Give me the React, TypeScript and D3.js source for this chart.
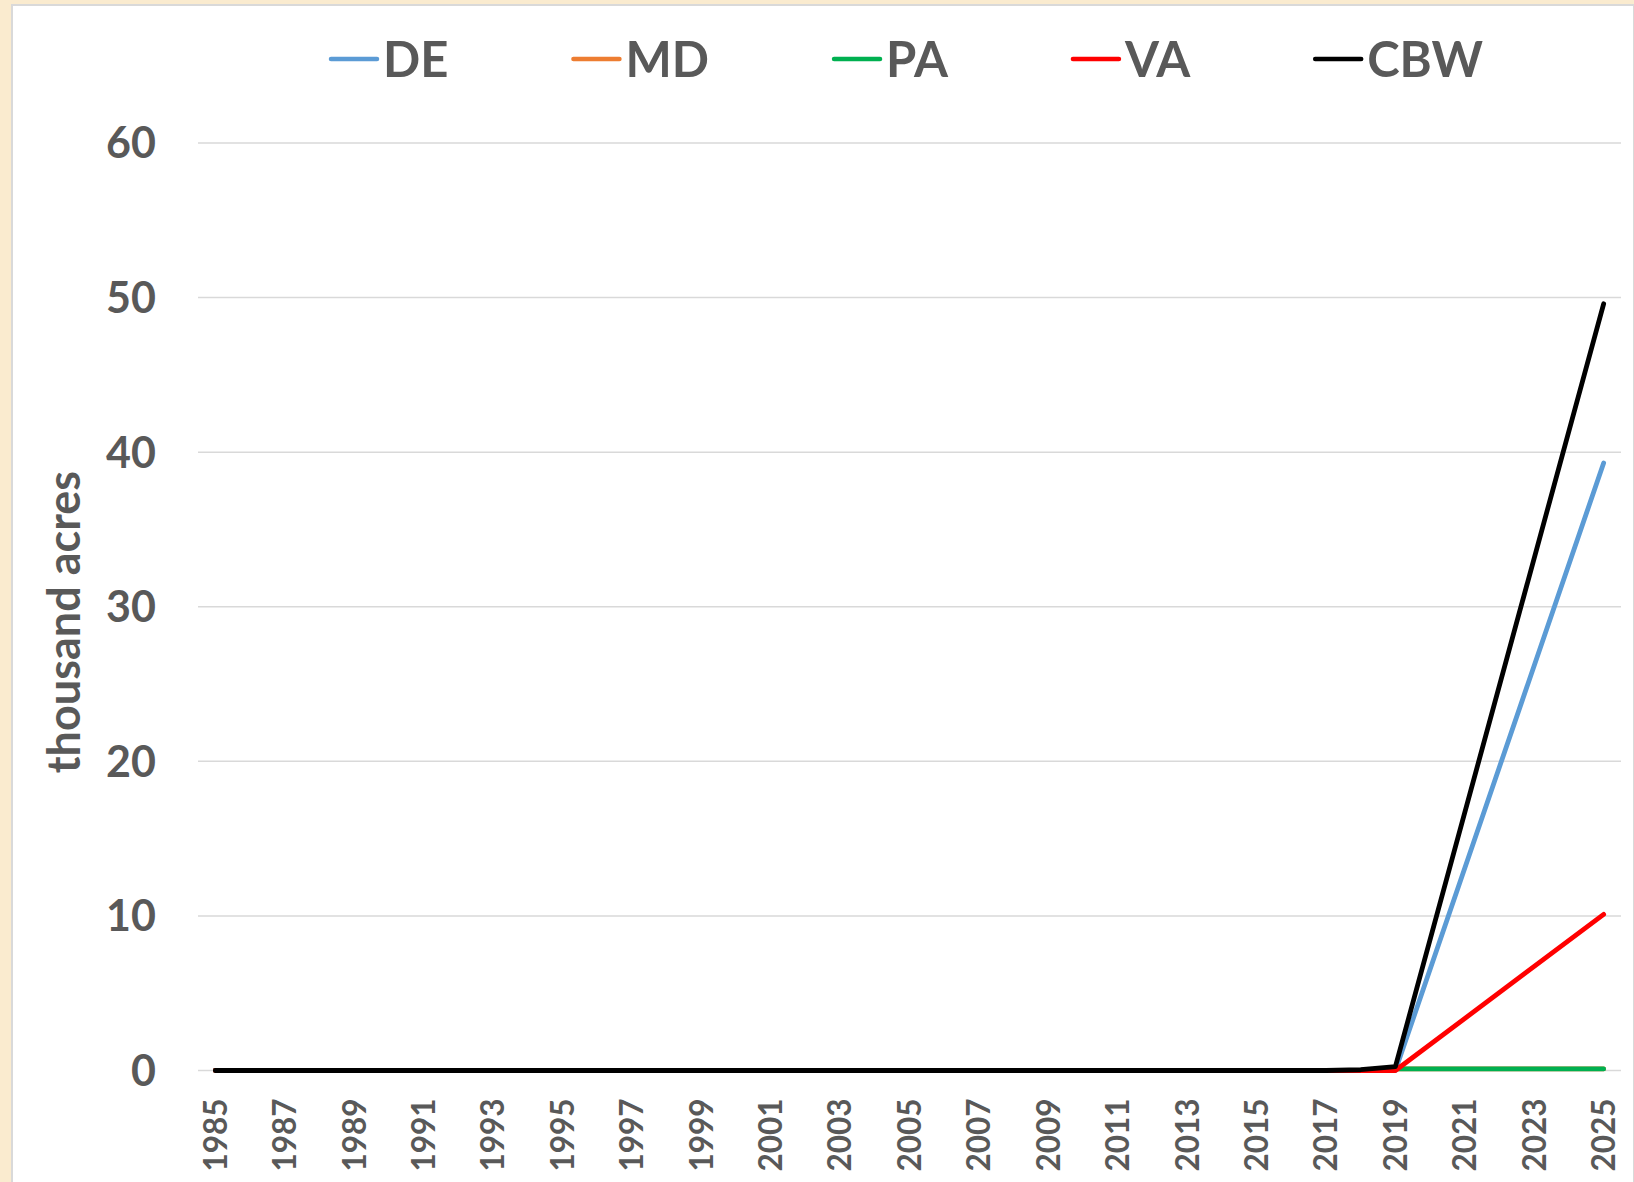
import React, { useEffect, useRef } from 'react'
import * as d3 from 'd3'

// years on the category axis (1985 - 2025, yearly)
const years: number[] = d3.range(1985, 2026)
const tickYears: number[] = years.filter(y => (y - 1985) % 2 === 0)
const yTicks = [0, 10, 20, 30, 40, 50, 60]

// thousand acres, null = no data (line connects across the gap like Excel)
const zeros = (n: number) => Array(n).fill(0)
const gap = [null, null, null, null, null]
const DE = [...zeros(34), 0, ...gap, 39.3]
const MD = [...zeros(34), 0.1, ...gap, 0.1]
const PA = [...zeros(34), 0.1, ...gap, 0.1]
const VA = [...zeros(34), 0, ...gap, 10.1]
const CBW = [...zeros(33), 0.05, 0.25, ...gap, 49.6]

const seriesNames = ['DE', 'MD', 'PA', 'VA', 'CBW']
const seriesValues = [DE, MD, PA, VA, CBW]
const seriesColors = ['#5B9BD5', '#ED7D31', '#00B050', '#FF0000', '#000000']

const FONT = 'Lato, "Open Sans", sans-serif'
const TEXT = '#595959'

export default function App() {
    const ref = useRef<SVGSVGElement>(null)

    useEffect(() => {
        document.body.style.margin = '0'
        const svg = d3.select(ref.current)
        svg.selectAll('*').remove()

        const W = 1634, H = 1182
        const margin = { top: 143, right: 13, bottom: 111.5, left: 198 }
        const width = W - margin.left - margin.right
        const height = H - margin.top - margin.bottom

        // page background + white chart panel
        svg.append('rect').attr('width', W).attr('height', H).attr('fill', '#FAEBCF')
        svg.append('rect')
            .attr('x', 12).attr('y', 5)
            .attr('width', W - 12).attr('height', H)
            .attr('fill', '#fff')
            .attr('stroke', '#D9D9D9').attr('stroke-width', 2)

        const x = d3.scalePoint<number>()
            .domain(years)
            .range([0, width])
            .padding(0.5)

        const y = d3.scaleLinear()
            .domain([0, 60])
            .range([height, 0])

        const g = svg.append('g')
            .attr('transform', `translate(${margin.left},${margin.top})`)

        // gridlines
        g.append('g')
            .selectAll('line')
            .data(yTicks)
            .enter()
            .append('line')
            .attr('x1', 0).attr('x2', width)
            .attr('y1', d => y(d)).attr('y2', d => y(d))
            .attr('stroke', '#D9D9D9')
            .attr('stroke-width', 1.5)

        // y tick labels
        g.append('g')
            .selectAll('text')
            .data(yTicks)
            .enter()
            .append('text')
            .attr('x', -42)
            .attr('y', d => y(d))
            .attr('dy', '0.36em')
            .attr('text-anchor', 'end')
            .attr('font-family', FONT)
            .attr('font-weight', 'bold')
            .attr('font-size', 43)
            .attr('fill', TEXT)
            .text(d => d)

        // x tick labels (rotated)
        g.append('g')
            .selectAll('text')
            .data(tickYears)
            .enter()
            .append('text')
            .attr('transform', d => `translate(${x(d)},${height + 28}) rotate(-90)`)
            .attr('dy', '0.36em')
            .attr('text-anchor', 'end')
            .attr('font-family', FONT)
            .attr('font-weight', 'bold')
            .attr('font-size', 31.5)
            .attr('fill', TEXT)
            .text(d => d)

        // y axis title
        svg.append('text')
            .attr('transform', `translate(64,622) rotate(-90)`)
            .attr('dy', '0.35em')
            .attr('text-anchor', 'middle')
            .attr('font-family', FONT)
            .attr('font-weight', 'bold')
            .attr('font-size', 45)
            .attr('fill', TEXT)
            .text('thousand acres')

        // lines
        const line = d3.line<[number, number | null]>()
            .defined(d => d[1] !== null)
            .x(d => x(d[0]) as number)
            .y(d => y(d[1] as number))

        seriesValues.forEach((vals, i) => {
            const pts = years.map((yr, j) => [yr, vals[j]] as [number, number | null])
                .filter(d => d[1] !== null)
            g.append('path')
                .datum(pts)
                .attr('d', line)
                .attr('fill', 'none')
                .attr('stroke', seriesColors[i])
                .attr('stroke-width', 4.8)
                .attr('stroke-linejoin', 'round')
                .attr('stroke-linecap', 'round')
        })

        // legend
        const legend = svg.append('g').attr('transform', 'translate(331,59)')
        let lx = 0
        seriesNames.forEach((name, i) => {
            const item = legend.append('g').attr('transform', `translate(${lx},0)`)
            item.append('line')
                .attr('x1', 0).attr('x2', 46)
                .attr('stroke', seriesColors[i])
                .attr('stroke-width', 4.5)
                .attr('stroke-linecap', 'round')
            const t = item.append('text')
                .attr('x', 52)
                .attr('dy', '0.36em')
                .attr('font-family', FONT)
                .attr('font-weight', 'bold')
                .attr('font-size', 49)
                .attr('fill', TEXT)
                .text(name)
            const w = (t.node() as SVGTextElement).getComputedTextLength()
            lx += 52 + w + 125
        })
    }, [])

    return <svg ref={ref} width={1634} height={1182} style={{ display: 'block' }} />
}
